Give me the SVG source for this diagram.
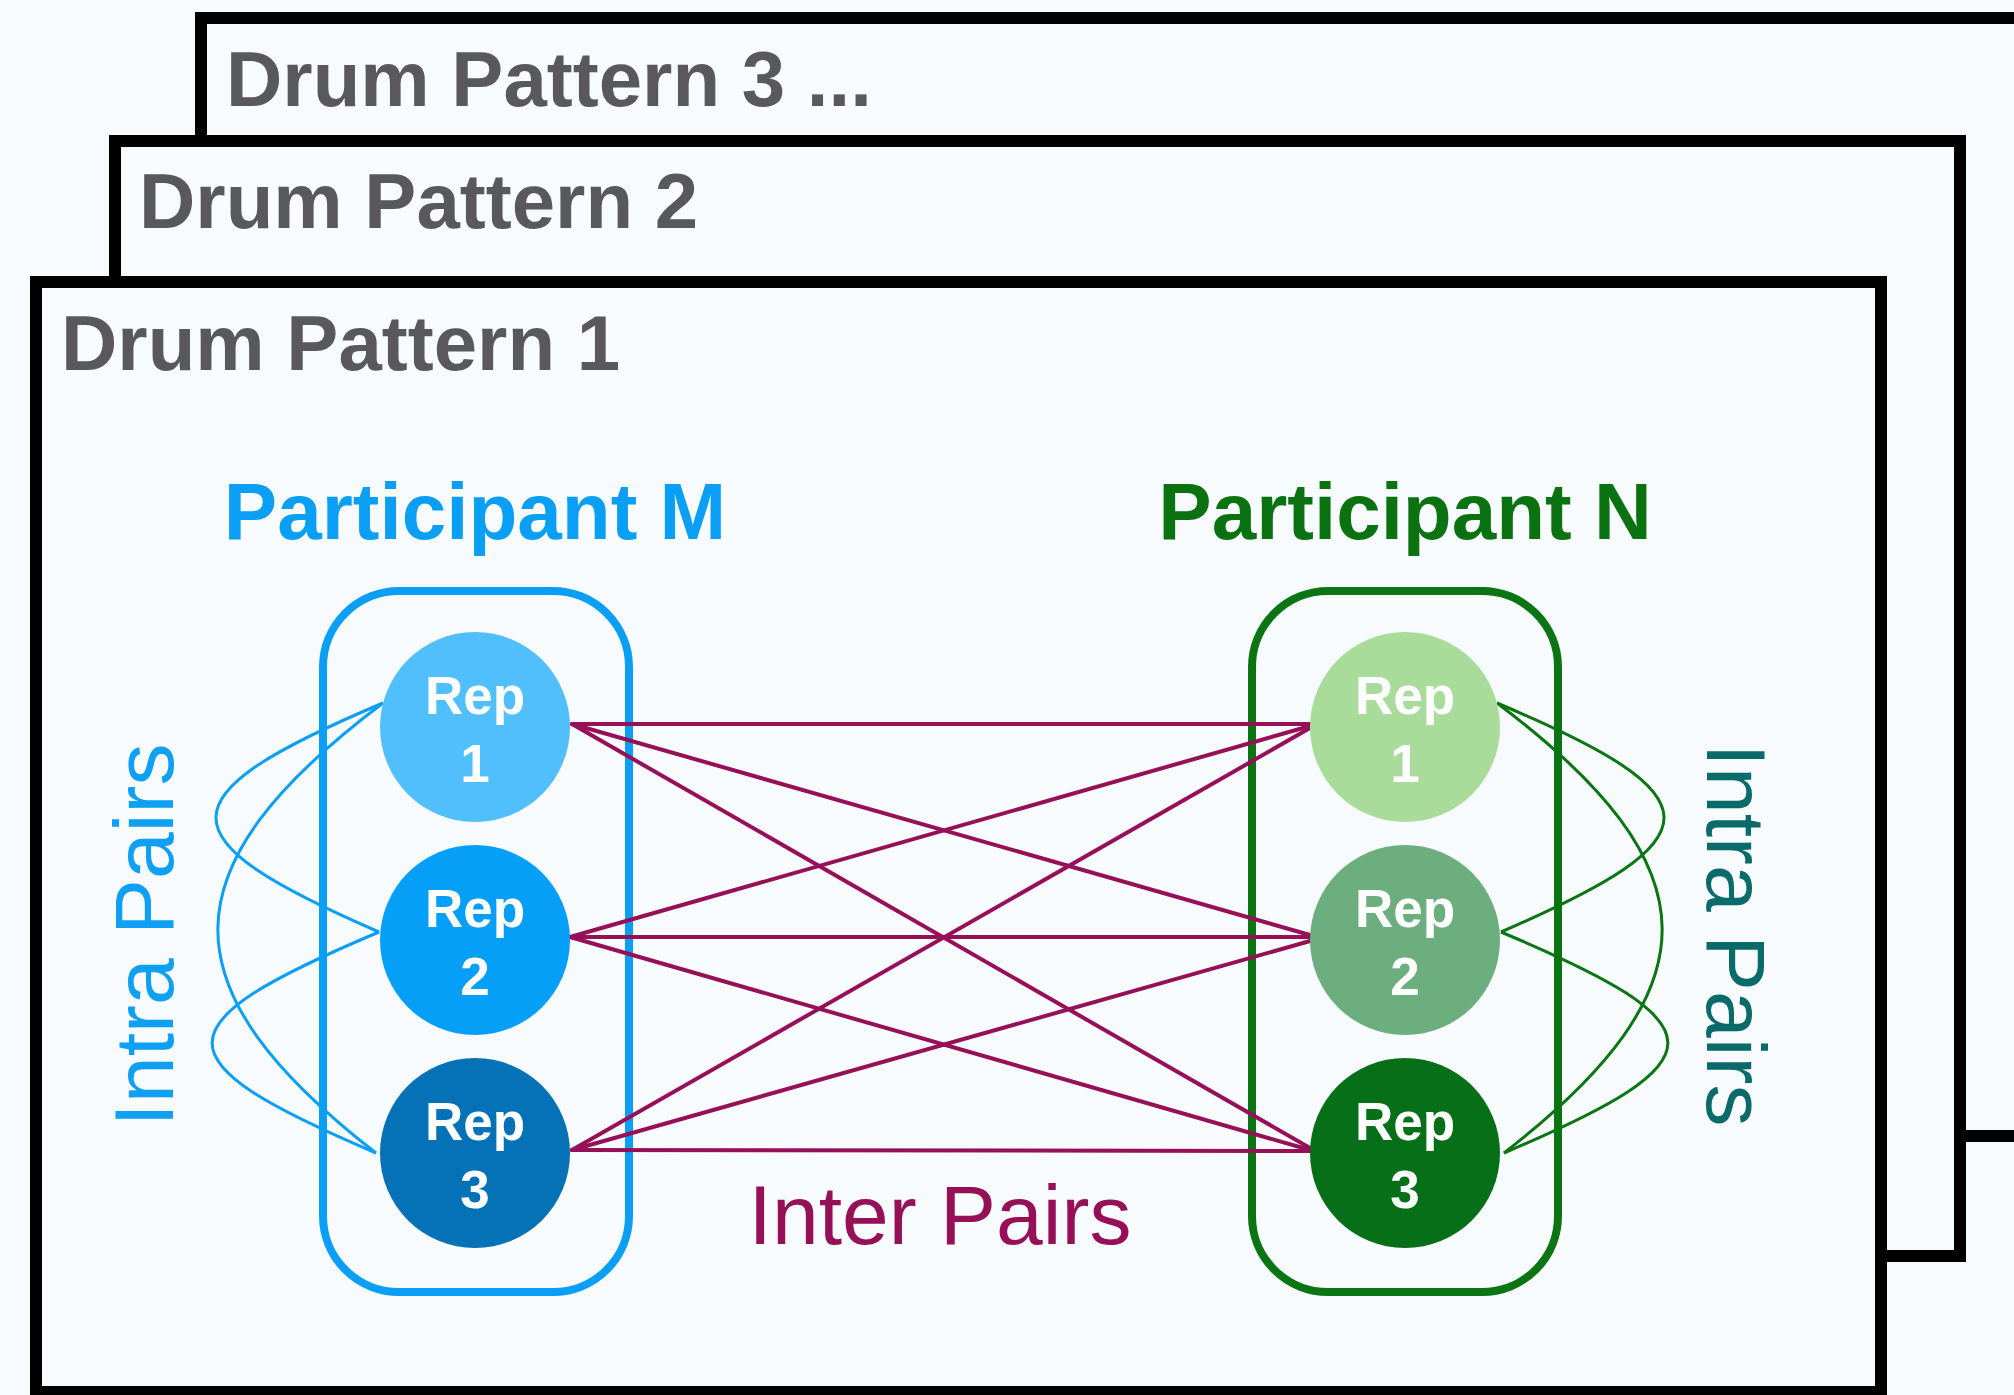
<svg xmlns="http://www.w3.org/2000/svg" width="2014" height="1395" viewBox="0 0 2014 1395">
  <style>
    .frame { fill: #f7fbfd; stroke: #000000; stroke-width: 12; }
    .title { font-family: "Liberation Sans", Arial, Helvetica, sans-serif; font-weight: bold; font-size: 78px; fill: #59595d; }
    .part { font-family: "Liberation Sans", Arial, Helvetica, sans-serif; font-weight: bold; font-size: 80px; text-anchor: middle; }
    .rep { font-family: "Liberation Sans", Arial, Helvetica, sans-serif; font-weight: bold; font-size: 53px; fill: #ffffff; text-anchor: middle; }
    .lbl { font-family: "Liberation Sans", Arial, Helvetica, sans-serif; font-size: 84px; text-anchor: middle; }
    .inter { stroke: #961058; stroke-width: 4; fill: none; stroke-linecap: round; }
    .intraM { stroke: #0a9ff5; stroke-width: 3; fill: none; }
    .intraN { stroke: #0a7512; stroke-width: 3; fill: none; }
  </style>
  <rect x="0" y="0" width="2014" height="1395" fill="#f8fbfd"/>

  <g id="frame-3">
    <rect class="frame" x="201" y="18" width="1830" height="1118"/>
    <text class="title" x="226" y="106">Drum Pattern 3 ...</text>
  </g>
  <g id="frame-2">
    <rect class="frame" x="115" y="141" width="1845" height="1115"/>
    <text class="title" x="139" y="228">Drum Pattern 2</text>
  </g>
  <g id="frame-1">
    <rect class="frame" x="36" y="282" width="1845" height="1110"/>
    <text class="title" x="61" y="370">Drum Pattern 1</text>
  </g>

  <g id="participant-M">
    <text class="part" x="475" y="539" fill="#0a9ff5">Participant M</text>
    <rect x="323" y="591" width="306" height="701" rx="76" ry="76" fill="none" stroke="#0a9ff5" stroke-width="8"/>
  </g>
  <g id="participant-N">
    <text class="part" x="1405" y="539" fill="#0b7212">Participant N</text>
    <rect x="1252" y="591" width="306" height="701" rx="76" ry="76" fill="none" stroke="#0a7512" stroke-width="8"/>
  </g>

  <g id="connectors">
    <g id="inter-pairs">
      <line class="inter" x1="572" y1="724" x2="1310" y2="724"/>
      <line class="inter" x1="572" y1="724" x2="1310" y2="935"/>
      <line class="inter" x1="572" y1="724" x2="1310" y2="1148"/>
      <line class="inter" x1="570" y1="937" x2="1310" y2="726"/>
      <line class="inter" x1="570" y1="937" x2="1310" y2="937"/>
      <line class="inter" x1="570" y1="937" x2="1310" y2="1150"/>
      <line class="inter" x1="572" y1="1150" x2="1310" y2="728"/>
      <line class="inter" x1="572" y1="1150" x2="1310" y2="941"/>
      <line class="inter" x1="572" y1="1150" x2="1310" y2="1151"/>
    </g>
    <g id="intra-pairs-M">
      <path class="intraM" d="M383,703 C160,797 162,838 379,932"/>
      <path class="intraM" d="M379,932 C156,1026 158,1060 376,1153"/>
      <path class="intraM" d="M383,703 C164,868 164,988 376,1153"/>
    </g>
    <g id="intra-pairs-N">
      <path class="intraN" d="M1497,703 C1720,797 1718,838 1501,932"/>
      <path class="intraN" d="M1501,932 C1724,1026 1722,1060 1504,1153"/>
      <path class="intraN" d="M1497,703 C1716,868 1716,988 1504,1153"/>
    </g>
  </g>

  <g id="M-rep1">
    <circle cx="475" cy="727" r="95" fill="#52bffd"/>
    <text class="rep" x="475" y="714">Rep</text>
    <text class="rep" x="475" y="782">1</text>
  </g>
  <g id="M-rep2">
    <circle cx="475" cy="940" r="95" fill="#069ff7"/>
    <text class="rep" x="475" y="927">Rep</text>
    <text class="rep" x="475" y="995">2</text>
  </g>
  <g id="M-rep3">
    <circle cx="475" cy="1153" r="95" fill="#0571b7"/>
    <text class="rep" x="475" y="1140">Rep</text>
    <text class="rep" x="475" y="1208">3</text>
  </g>
  <g id="N-rep1">
    <circle cx="1405" cy="727" r="95" fill="#a9dc9b"/>
    <text class="rep" x="1405" y="714">Rep</text>
    <text class="rep" x="1405" y="782">1</text>
  </g>
  <g id="N-rep2">
    <circle cx="1405" cy="940" r="95" fill="#6cae7d"/>
    <text class="rep" x="1405" y="927">Rep</text>
    <text class="rep" x="1405" y="995">2</text>
  </g>
  <g id="N-rep3">
    <circle cx="1405" cy="1153" r="95" fill="#086f19"/>
    <text class="rep" x="1405" y="1140">Rep</text>
    <text class="rep" x="1405" y="1208">3</text>
  </g>

  <g id="labels">
    <text class="lbl" fill="#0fa0f3" transform="translate(173,935) rotate(-90)">Intra Pairs</text>
    <text class="lbl" fill="#0b6a6a" transform="translate(1707,935) rotate(90)">Intra Pairs</text>
    <text class="lbl" fill="#961058" x="940" y="1244">Inter Pairs</text>
  </g>
</svg>
